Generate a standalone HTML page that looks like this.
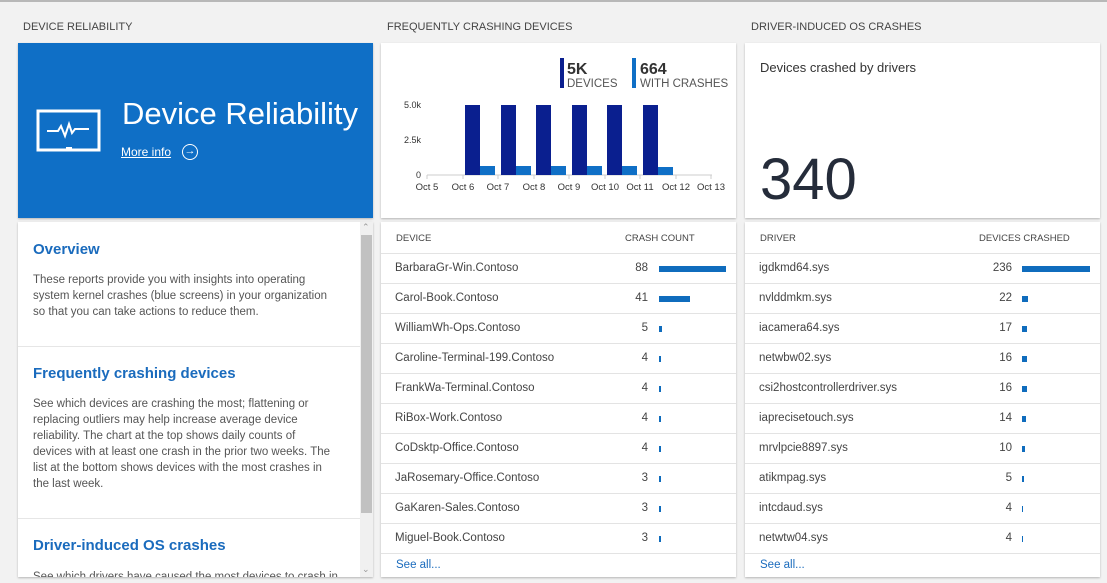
<!DOCTYPE html>
<html><head><meta charset="utf-8"><style>
*{margin:0;padding:0;box-sizing:border-box}
body{width:1107px;height:580px;background:#f2f2f2;font-family:"Liberation Sans","DejaVu Sans",sans-serif;position:relative;overflow:hidden;color:#333}
.a{position:absolute;white-space:nowrap}
.cap{font-size:11px;color:#444;top:21px}
.panel{position:absolute;background:#fff;box-shadow:0 1px 2px rgba(0,0,0,.25)}
.h{color:#1a6bbd;font-size:15px;font-weight:bold;left:15px}
.p{font-size:11.5px;color:#555;left:15px;line-height:16px}
.th{font-size:9.5px;color:#444;top:11px}
.row{position:absolute;left:0;right:0;height:30px;border-top:1px solid #e3e3e3;font-size:11.5px;color:#444}
.row .n{position:absolute;left:14px;top:8px}
.row .v{position:absolute;right:0;top:8px;text-align:right}
.row .b{position:absolute;top:12px;height:6px;background:#0f6cbd}
.sa{font-size:11.5px;color:#1a6bbd;top:337px;left:15px}
</style></head><body>
<div class="a" style="left:0;top:0;width:1107px;height:2px;background:#b8b8b8"></div>
<div class="a cap" style="left:23px">DEVICE RELIABILITY</div>
<div class="a cap" style="left:387px">FREQUENTLY CRASHING DEVICES</div>
<div class="a cap" style="left:751px">DRIVER-INDUCED OS CRASHES</div>

<div class="panel" style="left:18px;top:43px;width:355px;height:175px;background:#0f6fc6">
<svg class="a" style="left:18px;top:66px" width="66" height="45" viewBox="0 0 66 45">
<rect x="2" y="2" width="61" height="39" fill="none" stroke="#fff" stroke-width="3"/>
<rect x="30" y="38" width="6" height="2" fill="#fff"/>
<polyline points="11,22 22,22 25,17 29,27 33,15 36,24 39,20 53,20" fill="none" stroke="#fff" stroke-width="2"/>
</svg>
<div class="a" style="left:104px;top:53px;font-size:31px;color:#fff">Device Reliability</div>
<div class="a" style="left:103px;top:102px;font-size:12px;color:#fff;text-decoration:underline">More info</div>
<div class="a" style="left:164px;top:101px;width:16px;height:16px;border:1.5px solid #fff;border-radius:50%;color:#fff;font-size:11px;line-height:13px;text-align:center;font-weight:bold">→</div>
</div>

<div class="panel" style="left:18px;top:222px;width:355px;height:355px;overflow:hidden">
<div class="a h" style="top:19px">Overview</div>
<div class="a p" style="top:50px">These reports provide you with insights into operating<br>system kernel crashes (blue screens) in your organization<br>so that you can take actions to reduce them.</div>
<div class="a" style="left:0;top:124px;width:342px;height:1px;background:#e6e6e6"></div>
<div class="a h" style="top:143px">Frequently crashing devices</div>
<div class="a p" style="top:174px">See which devices are crashing the most; flattening or<br>replacing outliers may help increase average device<br>reliability. The chart at the top shows daily counts of<br>devices with at least one crash in the prior two weeks. The<br>list at the bottom shows devices with the most crashes in<br>the last week.</div>
<div class="a" style="left:0;top:296px;width:342px;height:1px;background:#e6e6e6"></div>
<div class="a h" style="top:315px">Driver-induced OS crashes</div>
<div class="a p" style="top:347px">See which drivers have caused the most devices to crash in</div>
<div class="a" style="left:342px;top:0;width:13px;height:355px;background:#f0f0f0"></div>
<div class="a" style="left:343px;top:13px;width:11px;height:278px;background:#c1c1c1"></div>
<div class="a" style="left:344px;top:0;font-size:9px;color:#999">⌃</div>
<div class="a" style="left:344px;top:342px;font-size:9px;color:#999">⌄</div>
</div>

<div class="panel" style="left:381px;top:43px;width:355px;height:175px">
<svg class="a" style="left:0;top:0" width="355" height="175">
<rect x="179" y="15" width="4" height="30" fill="#0a1f8f"/>
<rect x="251" y="15" width="4" height="30" fill="#0f6fc6"/>
<text x="186" y="31" font-size="16" font-weight="bold" fill="#333" font-family="Liberation Sans">5K</text>
<text x="186" y="44" font-size="11.5" fill="#555" font-family="Liberation Sans">DEVICES</text>
<text x="259" y="31" font-size="16" font-weight="bold" fill="#333" font-family="Liberation Sans">664</text>
<text x="259" y="44" font-size="11.5" fill="#555" font-family="Liberation Sans">WITH CRASHES</text>
<g font-family="Liberation Sans" font-size="9" fill="#333" text-anchor="end">
<text x="40" y="65">5.0k</text><text x="40" y="100">2.5k</text><text x="40" y="135">0</text></g>
<line x1="46" y1="132" x2="331" y2="132" stroke="#ccc"/>
<g fill="#0a1f8f">
<rect x="84" y="62" width="15" height="70"/><rect x="120" y="62" width="15" height="70"/><rect x="155" y="62" width="15" height="70"/><rect x="191" y="62" width="15" height="70"/><rect x="226" y="62" width="15" height="70"/><rect x="262" y="62" width="15" height="70"/></g>
<g fill="#0f6fc6">
<rect x="99" y="123" width="15" height="9"/><rect x="135" y="123" width="15" height="9"/><rect x="170" y="123" width="15" height="9"/><rect x="206" y="123" width="15" height="9"/><rect x="241" y="123" width="15" height="9"/><rect x="277" y="124" width="15" height="8"/></g>
<g stroke="#ccc"><line x1="46" y1="132" x2="46" y2="136"/><line x1="82" y1="132" x2="82" y2="136"/><line x1="117" y1="132" x2="117" y2="136"/><line x1="153" y1="132" x2="153" y2="136"/><line x1="188" y1="132" x2="188" y2="136"/><line x1="224" y1="132" x2="224" y2="136"/><line x1="259" y1="132" x2="259" y2="136"/><line x1="295" y1="132" x2="295" y2="136"/><line x1="330" y1="132" x2="330" y2="136"/></g>
<g font-family="Liberation Sans" font-size="9.5" fill="#333" text-anchor="middle">
<text x="46" y="147">Oct 5</text><text x="82" y="147">Oct 6</text><text x="117" y="147">Oct 7</text><text x="153" y="147">Oct 8</text><text x="188" y="147">Oct 9</text><text x="224" y="147">Oct 10</text><text x="259" y="147">Oct 11</text><text x="295" y="147">Oct 12</text><text x="330" y="147">Oct 13</text></g>
</svg>
</div>

<div class="panel" style="left:381px;top:222px;width:355px;height:355px">
<div class="a th" style="left:15px">DEVICE</div>
<div class="a th" style="left:244px">CRASH COUNT</div>
<div style="position:absolute;left:0;right:0;top:31px">
<div class="row" style="top:0"><span class="n">BarbaraGr-Win.Contoso</span><span class="v" style="right:88px">88</span><span class="b" style="left:278px;width:67px"></span></div>
<div class="row" style="top:30px"><span class="n">Carol-Book.Contoso</span><span class="v" style="right:88px">41</span><span class="b" style="left:278px;width:31px"></span></div>
<div class="row" style="top:60px"><span class="n">WilliamWh-Ops.Contoso</span><span class="v" style="right:88px">5</span><span class="b" style="left:278px;width:3px"></span></div>
<div class="row" style="top:90px"><span class="n">Caroline-Terminal-199.Contoso</span><span class="v" style="right:88px">4</span><span class="b" style="left:278px;width:2px"></span></div>
<div class="row" style="top:120px"><span class="n">FrankWa-Terminal.Contoso</span><span class="v" style="right:88px">4</span><span class="b" style="left:278px;width:2px"></span></div>
<div class="row" style="top:150px"><span class="n">RiBox-Work.Contoso</span><span class="v" style="right:88px">4</span><span class="b" style="left:278px;width:2px"></span></div>
<div class="row" style="top:180px"><span class="n">CoDsktp-Office.Contoso</span><span class="v" style="right:88px">4</span><span class="b" style="left:278px;width:2px"></span></div>
<div class="row" style="top:210px"><span class="n">JaRosemary-Office.Contoso</span><span class="v" style="right:88px">3</span><span class="b" style="left:278px;width:2px"></span></div>
<div class="row" style="top:240px"><span class="n">GaKaren-Sales.Contoso</span><span class="v" style="right:88px">3</span><span class="b" style="left:278px;width:2px"></span></div>
<div class="row" style="top:270px"><span class="n">Miguel-Book.Contoso</span><span class="v" style="right:88px">3</span><span class="b" style="left:278px;width:2px"></span></div>
<div class="row" style="top:300px"></div>
</div>
<div class="a sa">See all...</div>
</div>

<div class="panel" style="left:745px;top:43px;width:355px;height:175px">
<div class="a" style="left:15px;top:17px;font-size:13px;color:#333">Devices crashed by drivers</div>
<div class="a" style="left:15px;top:103px;font-size:58px;color:#252c3a">340</div>
</div>

<div class="panel" style="left:745px;top:222px;width:355px;height:355px">
<div class="a th" style="left:15px">DRIVER</div>
<div class="a th" style="left:234px">DEVICES CRASHED</div>
<div style="position:absolute;left:0;right:0;top:31px">
<div class="row" style="top:0"><span class="n">igdkmd64.sys</span><span class="v" style="right:88px">236</span><span class="b" style="left:277px;width:68px"></span></div>
<div class="row" style="top:30px"><span class="n">nvlddmkm.sys</span><span class="v" style="right:88px">22</span><span class="b" style="left:277px;width:6px"></span></div>
<div class="row" style="top:60px"><span class="n">iacamera64.sys</span><span class="v" style="right:88px">17</span><span class="b" style="left:277px;width:5px"></span></div>
<div class="row" style="top:90px"><span class="n">netwbw02.sys</span><span class="v" style="right:88px">16</span><span class="b" style="left:277px;width:5px"></span></div>
<div class="row" style="top:120px"><span class="n">csi2hostcontrollerdriver.sys</span><span class="v" style="right:88px">16</span><span class="b" style="left:277px;width:5px"></span></div>
<div class="row" style="top:150px"><span class="n">iaprecisetouch.sys</span><span class="v" style="right:88px">14</span><span class="b" style="left:277px;width:4px"></span></div>
<div class="row" style="top:180px"><span class="n">mrvlpcie8897.sys</span><span class="v" style="right:88px">10</span><span class="b" style="left:277px;width:3px"></span></div>
<div class="row" style="top:210px"><span class="n">atikmpag.sys</span><span class="v" style="right:88px">5</span><span class="b" style="left:277px;width:2px"></span></div>
<div class="row" style="top:240px"><span class="n">intcdaud.sys</span><span class="v" style="right:88px">4</span><span class="b" style="left:277px;width:1px"></span></div>
<div class="row" style="top:270px"><span class="n">netwtw04.sys</span><span class="v" style="right:88px">4</span><span class="b" style="left:277px;width:1px"></span></div>
<div class="row" style="top:300px"></div>
</div>
<div class="a sa">See all...</div>
</div>
</body></html>
